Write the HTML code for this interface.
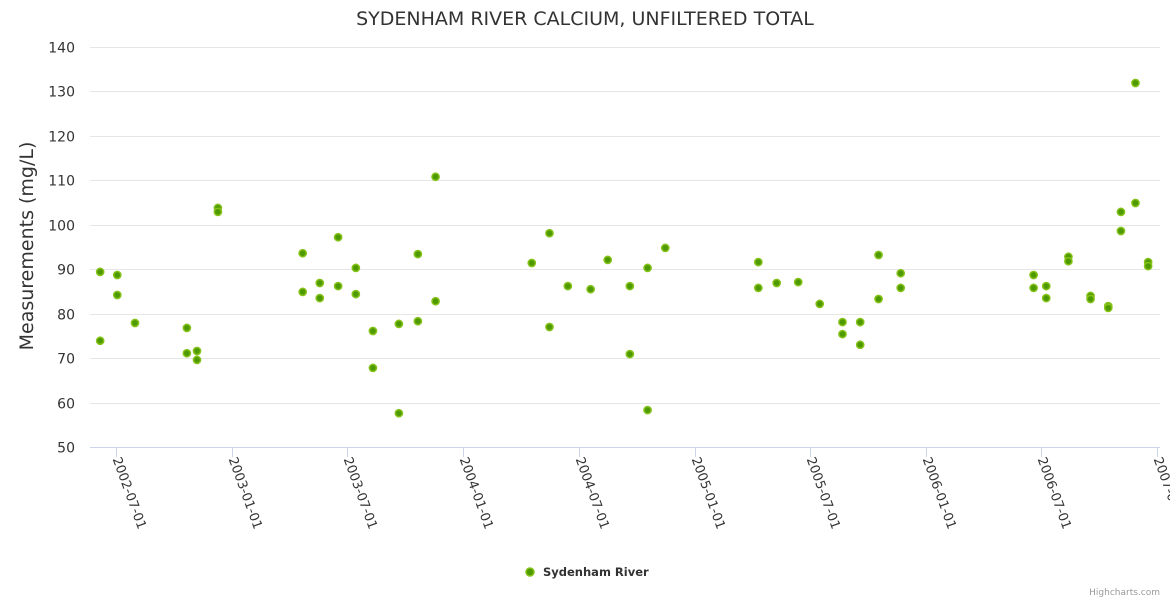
<!DOCTYPE html>
<html><head><meta charset="utf-8"><style>
body{margin:0;background:#fff;}
svg{display:block;font-family:"DejaVu Sans","Liberation Sans",sans-serif;}
</style></head><body>
<svg id="c" width="1170" height="600">
<text x="585" y="25" text-anchor="middle" font-size="19" fill="#333">SYDENHAM RIVER CALCIUM, UNFILTERED TOTAL</text>
<text transform="translate(33,246) rotate(-90)" text-anchor="middle" font-size="19" fill="#333">Measurements (mg/L)</text>
<g id="grid"></g><g id="xax"></g><g id="pts"></g>
<g>
<circle cx="530" cy="572" r="4" fill="#4f9a00" stroke="#85c21a" stroke-width="1.5"/>
<text x="543" y="576" font-size="11.5" font-weight="bold" fill="#333">Sydenham River</text>
</g>
<text x="1160" y="595" text-anchor="end" font-size="9" fill="#999">Highcharts.com</text>
</svg>
<script>
const yTicks=[50,60,70,80,90,100,110,120,130,140];
const xTicks=["2002-07-01","2003-01-01","2003-07-01","2004-01-01","2004-07-01","2005-01-01","2005-07-01","2006-01-01","2006-07-01","2007-01-01"];
const daysSince20020701=[-25,-25,2,2,30,112,112,128,128,161,161,295,295,322,322,351,351,379,379,406,406,447,447,477,477,505,505,657,685,685,714,750,777,812,812,840,840,868,1015,1015,1044,1078,1112,1148,1148,1176,1176,1205,1205,1240,1240,1450,1450,1470,1470,1505,1505,1540,1540,1568,1568,1588,1588,1611,1611,1631,1631];
const values=[73.9,89.4,88.7,84.2,77.9,76.8,71.1,71.6,69.6,103.8,102.9,93.6,84.9,86.9,83.5,97.2,86.2,90.3,84.4,76.1,67.8,77.7,57.6,93.4,78.3,110.8,82.8,91.4,98.1,77.0,86.2,85.5,92.1,86.2,70.9,90.3,58.3,94.8,91.6,85.8,86.9,87.1,82.2,78.1,75.4,78.1,73.0,93.2,83.3,89.1,85.8,88.7,85.8,86.2,83.5,92.8,91.8,84.0,83.3,81.7,81.3,102.9,98.6,104.9,131.9,91.6,90.7];
const NS="http://www.w3.org/2000/svg";
const base=Date.UTC(2002,6,1), DAY=86400000;
const x0=90,x1=1160,yTop=47,yBot=447;
const pxPerDay=(1157-116)/1645;
function xS(t){return 116+(t-base)/DAY*pxPerDay;}
function yS(v){return yBot-(v-50)/90*(yBot-yTop);}
function mk(tag,a,p){const e=document.createElementNS(NS,tag);for(const k in a)e.setAttribute(k,a[k]);p.appendChild(e);return e;}
const grid=document.getElementById('grid');
yTicks.forEach(v=>{
  const y=Math.round(yS(v))+0.5;
  const l=mk('line',{x1:x0,x2:x1,y1:y,y2:y,stroke:v===50?'#ccd6eb':'#e6e6e6','stroke-width':1},grid);
  
  
  const t=mk('text',{x:75,y:y+5,'text-anchor':'end','font-size':14,fill:'#333'},grid);
  t.textContent=v;
  
  
});
const xax=document.getElementById('xax');
xTicks.forEach(s=>{
  const p=s.split('-').map(Number);
  const x=Math.round(xS(Date.UTC(p[0],p[1]-1,p[2])))+0.5;
  const l=mk('line',{x1:x,x2:x,y1:yBot,y2:yBot+10,stroke:'#ccd6eb'},xax);
  
  
  const t=mk('text',{transform:`translate(${x-4},${yBot+12}) rotate(70)`,'font-size':13,fill:'#333'},xax);
  t.textContent=s;
  
  
});
const pts=document.getElementById('pts');
values.forEach((v,i)=>{
  const c=mk('circle',{cx:xS(base+daysSince20020701[i]*DAY),cy:yS(v),r:3.6,fill:'#4f9a00',stroke:'#85c21a','stroke-width':1.5},pts);
  
  
});
</script>
</body></html>
